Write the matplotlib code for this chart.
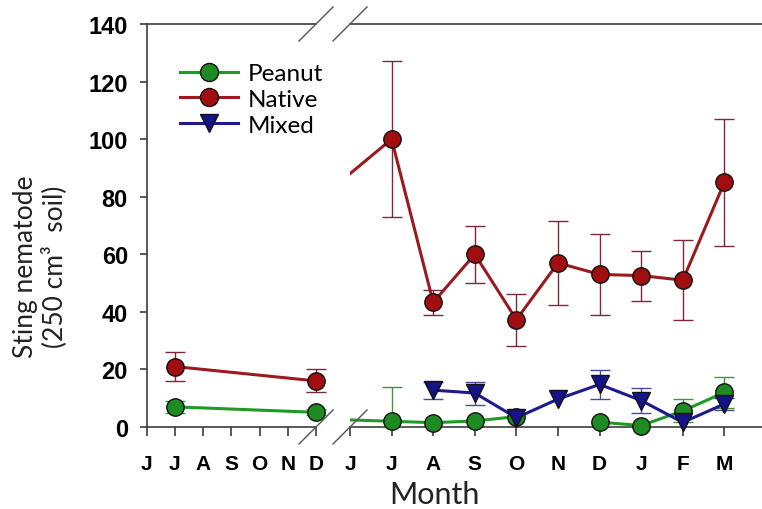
import numpy as np
import matplotlib
matplotlib.use("Agg")
import matplotlib.pyplot as plt
from matplotlib.lines import Line2D

# ---------------- data ----------------
# month index: 0 = June (year 1) ... 6 = Dec, 12 = June (year 2) ... 21 = March
months_left = ['J', 'J', 'A', 'S', 'O', 'N', 'D']
months_right = ['J', 'J', 'A', 'S', 'O', 'N', 'D', 'J', 'F', 'M']

native_x = [1, 6, 13, 14, 15, 16, 17, 18, 19, 20, 21]
native_y = [21, 16, 100, 43.3, 60, 37.3, 57, 53, 52.6, 51, 85]
native_err = [5, 4, 27, 4.3, 10, 9, 14.5, 14, 8.7, 14, 22]

peanut_x = [1, 6, 13, 14, 15, 16, 17, 18, 19, 20, 21]
peanut_y = [7, 5.1, 2, 1.5, 2.1, 3.6, np.nan, 1.7, 0.5, 5.6, 12]
peanut_err = [2, 1, 12, 0, 0, 0, 0, 0, 0, 4, 5.5]

mixed_x = [14, 15, 16, 17, 18, 19, 20, 21]
mixed_y = [12.8, 11.8, 3.2, 9.7, 14.8, 9.2, 1.6, 8]
mixed_err = [3, 4, 0, 0, 5, 4.3, 0, 2]

series = [
    dict(name='Peanut', x=peanut_x, y=peanut_y, e=peanut_err, line='#1f9a24',
         face='#1e8a22', ecol='#3a9a3a', marker='o'),
    dict(name='Native', x=native_x, y=native_y, e=native_err, line='#9a1a1e',
         face='#a00e10', ecol='#7a2a3a', marker='o'),
    dict(name='Mixed', x=mixed_x, y=mixed_y, e=mixed_err, line='#1c1a8e',
         face='#141488', ecol='#4a4a9a', marker='v'),
]
order = [1, 0, 2]  # drawing order: Native, Peanut, Mixed on top

# ---------------- figure ----------------
W, H = 762, 510
fig = plt.figure(figsize=(W / 100, H / 100), dpi=100)
y0, y1 = 428, 25
axL = fig.add_axes([146.7 / W, (H - y0) / H, (316 - 146.7) / W, (y0 - y1) / H])
axR = fig.add_axes([350 / W, (H - y0) / H, (W - 350) / W, (y0 - y1) / H])

spine_col = '#3c3c3c'
tick_font = dict(family='Liberation Sans', weight='bold')

xl = (0, 6)
xr = (12, 12 + (W - 350) / 41.6)
for ax, lim, labels, start in [(axL, xl, months_left, 0), (axR, xr, months_right, 12)]:
    ax.set_xlim(*lim)
    ax.set_ylim(0, 140)
    ax.set_xticks(np.arange(start, start + len(labels)))
    ax.set_xticklabels(labels, fontsize=15, **tick_font)
    ax.spines['right'].set_visible(False)
    for s in ['top', 'bottom', 'left']:
        ax.spines[s].set_color(spine_col)
        ax.spines[s].set_linewidth(1.2)
    ax.tick_params(axis='x', direction='out', length=6.5, width=1.2, color=spine_col, pad=13)
    ax.patch.set_alpha(0)

axL.set_yticks(np.arange(0, 141, 20))
axL.set_yticklabels([str(v) for v in range(0, 141, 20)], fontsize=17, **tick_font)
axL.tick_params(axis='y', direction='out', length=5, width=1.2, color=spine_col, pad=8.5)
axR.spines['left'].set_visible(False)
axR.tick_params(axis='y', left=False, labelleft=False)

for i, k in enumerate(order):
    s = series[k]
    x = np.array(s['x'], float)
    y = np.array(s['y'], float)
    e = np.array(s['e'], float)
    z = 3 + i * 2
    for ax in (axL, axR):
        lo, hi = ax.get_xlim()
        ax.plot(x, y, '-', color=s['line'], lw=2.2, zorder=z, clip_on=True)
        m = (x >= lo - 1e-9) & (x <= hi + 1e-9) & ~np.isnan(y)
        if not m.any():
            continue
        em = m & (e > 0)
        if em.any():
            lower = np.minimum(e[em], y[em])
            ax.errorbar(x[em], y[em], yerr=[lower, e[em]], fmt='none', ecolor=s['ecol'],
                        elinewidth=1.0, capsize=7, capthick=1.0, zorder=z - 0.5, clip_on=False)
        ax.plot(x[m], y[m], linestyle='none', marker=s['marker'], markersize=12.5,
                markerfacecolor=s['face'], markeredgecolor='#111111', markeredgewidth=1.0,
                zorder=z + 1, clip_on=False)

# legend
handles = [Line2D([], [], color=series[k]['line'], lw=2.2, marker=series[k]['marker'],
                  markersize=13, markerfacecolor=series[k]['face'],
                  markeredgecolor='#111111', markeredgewidth=1.0) for k in range(3)]
fig.legend(handles, [s['name'] for s in series], loc='upper left',
           bbox_to_anchor=(180 / W, (H - 64) / H), frameon=False, borderpad=0,
           borderaxespad=0, handlelength=2.4, handletextpad=0.4, labelspacing=0.2,
           prop=dict(family='Lato', size=17.5))

# break marks
d = 17
for xc in (316, 350):
    for yc in (y1, y0):
        fig.add_artist(Line2D([(xc - d) / W, (xc + d) / W], [(H - yc - d) / H, (H - yc + d) / H],
                              transform=fig.transFigure, color='#555555', lw=1.0))

# axis labels
fig.text(434 / W, (H - 504) / H, 'Month', ha='center', va='baseline',
         fontsize=22, family='Lato', color='#222222')
fig.text(40 / W, (H - 267) / H, 'Sting nematode\n(250 cm³  soil)', rotation=90,
         ha='center', va='center', multialignment='center', linespacing=1.15,
         fontsize=19, family='Lato', color='#222222')

fig.savefig('out.png', dpi=100, facecolor='white')
